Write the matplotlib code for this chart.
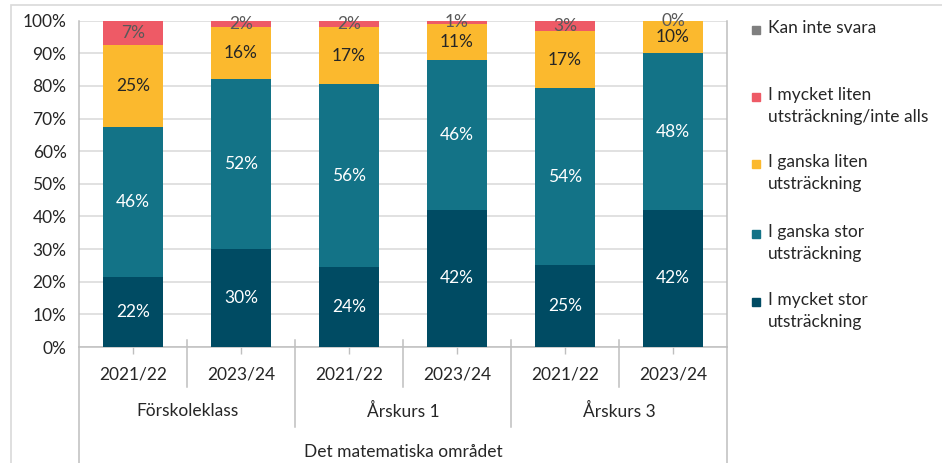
import matplotlib.pyplot as plt
import numpy as np
from matplotlib.patches import Rectangle
from matplotlib.lines import Line2D

plt.rcParams['font.family'] = ['Lato', 'DejaVu Sans']

# data
years = ['2021/22', '2023/24', '2021/22', '2023/24', '2021/22', '2023/24']
groups = ['Förskoleklass', 'Årskurs 1', 'Årskurs 3']
area = 'Det matematiska området'
series = ['I mycket stor\nutsträckning', 'I ganska stor\nutsträckning',
          'I ganska liten\nutsträckning', 'I mycket liten\nutsträckning/inte alls',
          'Kan inte svara']
mycket_stor = [21.5, 30, 24.4, 42, 25.0, 42]
ganska_stor = [45.8, 52, 56.2, 46, 54.4, 48]
ganska_liten = [25.4, 16, 17.4, 11, 17.4, 10]
mycket_liten = [7.3, 2, 2.0, 1, 3.2, 0]
kan_inte = [0, 0, 0, 0, 0, 0]

colors = ['#004B63', '#137387', '#FBB92E', '#EE5A66', '#7F7F7F']
label_colors = ['white', 'white', '#262626', '#595959', None]

W, H = 942, 463
fig = plt.figure(figsize=(W / 100, H / 100), dpi=100)
x0, x1, ytop, ybot = 79, 727, 20.7, 347
ax = fig.add_axes([x0 / W, (H - ybot) / H, (x1 - x0) / W, (ybot - ytop) / H])

# chart border
fig.patches.append(Rectangle((11 / W, -0.1), 1.2, (H - 5) / H + 0.1, transform=fig.transFigure,
                             fill=False, edgecolor='#D9D9D9', linewidth=1.2))

x = np.arange(len(years))
bottom = np.zeros(len(years))
data = [mycket_stor, ganska_stor, ganska_liten, mycket_liten, kan_inte]
for vals, col, lc in zip(data, colors, label_colors):
    vals = np.array(vals, dtype=float)
    ax.bar(x, vals, 0.56, bottom=bottom, color=col, zorder=3)
    if lc is not None:
        for xi, b, v in zip(x, bottom, vals):
            ax.text(xi, b + v / 2, f'{v:.0f}%', ha='center', va='center',
                    color=lc, fontsize=12.5, zorder=4)
    bottom += vals

ax.set_xlim(-0.5, len(years) - 0.5)
ax.set_ylim(0, 100)
ax.set_yticks(np.arange(0, 101, 10))
ax.set_yticklabels([f'{v}%' for v in range(0, 101, 10)], fontsize=12.5, color='#262626')
ax.tick_params(axis='y', length=0, pad=9)
ax.grid(axis='y', color='#D9D9D9', linewidth=1.1, zorder=0)
ax.set_xticks(x)
ax.set_xticklabels([])
ax.tick_params(axis='x', length=5, color='#BFBFBF', width=1)
ax.spines['top'].set_visible(False)
for s in ['left', 'right', 'bottom']:
    ax.spines[s].set_color('#BFBFBF')
    ax.spines[s].set_linewidth(1.1)

# multi-level category axis
def yf(py):
    return (ybot - py) / (ybot - ytop)

trans = ax.get_xaxis_transform()
for xi, lab in zip(x, years):
    ax.text(xi, yf(375), lab, transform=trans, ha='center', va='center',
            fontsize=12.5, color='#262626')
for gi, g in enumerate(groups):
    ax.text(2 * gi + 0.5, yf(411), g, transform=trans, ha='center', va='center',
            fontsize=12.5, color='#262626')
ax.text(2.5, yf(452), area, transform=trans, ha='center', va='center',
        fontsize=12.5, color='#262626')
for xb in [0.5, 2.5, 4.5]:
    ax.add_line(Line2D([xb, xb], [yf(340), yf(387)], transform=trans, color='#BFBFBF',
                       linewidth=1.1, clip_on=False))
for xb in [1.5, 3.5]:
    ax.add_line(Line2D([xb, xb], [yf(340), yf(427)], transform=trans, color='#BFBFBF',
                       linewidth=1.1, clip_on=False))
for xb in [-0.5, 5.5]:
    ax.add_line(Line2D([xb, xb], [0, yf(470)], transform=trans, color='#BFBFBF',
                       linewidth=1.1, clip_on=False))

# legend
leg_y = [30, 97, 164, 234, 302]
for name, col, py in zip(series[::-1], colors[::-1], leg_y):
    fig.patches.append(Rectangle((752 / W, (H - py - 4) / H), 8 / W, 8 / H,
                                 transform=fig.transFigure, color=col))
    fig.text(768 / W, (H - py + 10) / H, name, ha='left', va='top', fontsize=12.5,
             color='#262626', linespacing=1.45)

fig.savefig('out.png', dpi=100)
